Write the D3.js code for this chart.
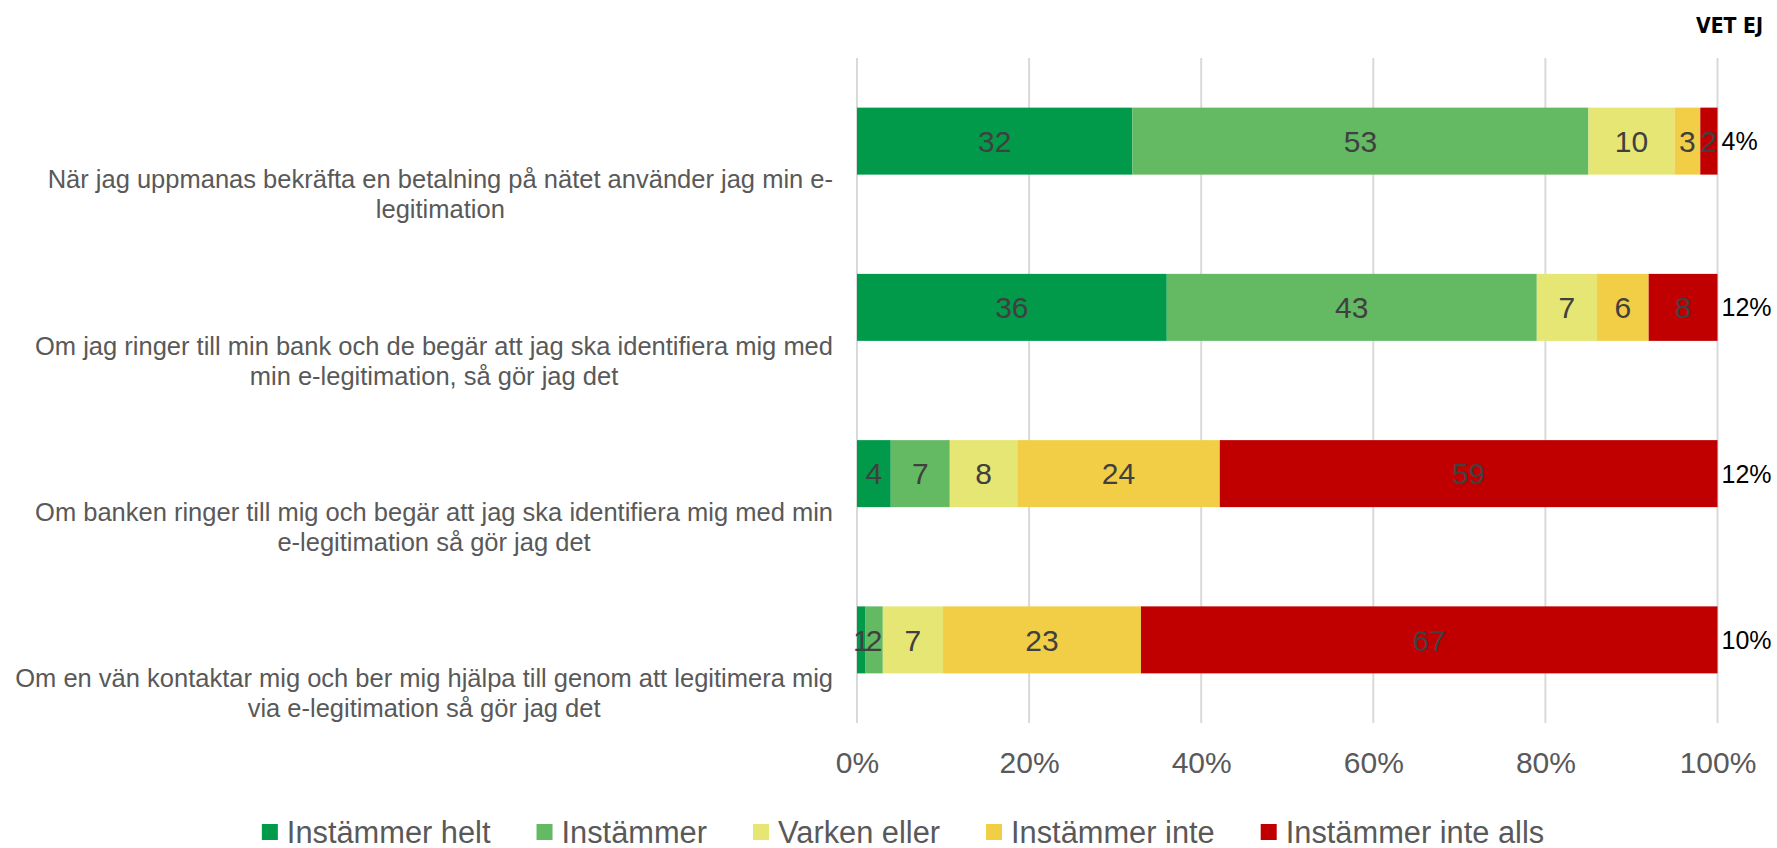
<!DOCTYPE html>
<html>
<head>
<meta charset="utf-8">
<script src="https://cdn.jsdelivr.net/npm/d3@7"></script>
<style>
  html, body { margin: 0; padding: 0; background: #fff; }
  svg { display: block; }
</style>
</head>
<body>
<svg id="chart" width="1777" height="848"></svg>
<script>
// ---- data ----
const categories = [
  "När jag uppmanas bekräfta en betalning på nätet använder jag min e-\nlegitimation",
  "Om jag ringer till min bank och de begär att jag ska identifiera mig med\nmin e-legitimation, så gör jag det",
  "Om banken ringer till mig och begär att jag ska identifiera mig med min\ne-legitimation så gör jag det",
  "Om en vän kontaktar mig och ber mig hjälpa till genom att legitimera mig\nvia e-legitimation så gör jag det"
];
const seriesNames = ["Instämmer helt", "Instämmer", "Varken eller", "Instämmer inte", "Instämmer inte alls"];
const instammerHelt = [32, 36, 4, 1];
const instammer = [53, 43, 7, 2];
const varkenEller = [10, 7, 8, 7];
const instammerInte = [3, 6, 24, 23];
const instammerInteAlls = [2, 8, 59, 67];
const vetEj = ["4%", "12%", "12%", "10%"];
const tickValues = [0, 0.2, 0.4, 0.6, 0.8, 1.0];
const colors = ["#009A4A", "#63BA63", "#E6E674", "#F2CE46", "#C00000"];

// ---- build table ----
const seriesArrays = [instammerHelt, instammer, varkenEller, instammerInte, instammerInteAlls];
const table = categories.map((c, i) => {
  const row = { cat: c };
  seriesNames.forEach((s, j) => row[s] = seriesArrays[j][i]);
  return row;
});
const stacked = d3.stack().keys(seriesNames).offset(d3.stackOffsetExpand)(table);

const svg = d3.select("#chart");
const x = d3.scaleLinear().domain([0, 1]).range([857, 1717.5]);
const y = d3.scaleBand().domain(categories).range([58, 723]).paddingInner(0.597).paddingOuter(0.2985);
const color = d3.scaleOrdinal().domain(seriesNames).range(colors);

// gridlines
svg.append("g").selectAll("line").data(tickValues).join("line")
  .attr("x1", d => x(d)).attr("x2", d => x(d))
  .attr("y1", 58).attr("y2", 723)
  .attr("stroke", "#d9d9d9").attr("stroke-width", 2);

// bars
const layer = svg.append("g").selectAll("g").data(stacked).join("g")
  .attr("fill", d => color(d.key));
layer.selectAll("rect").data(d => d.map(v => ({ v, key: d.key }))).join("rect")
  .attr("x", d => x(d.v[0]))
  .attr("width", d => x(d.v[1]) - x(d.v[0]))
  .attr("y", d => y(d.v.data.cat))
  .attr("height", y.bandwidth());

// data labels
const labelFont = "'Liberation Sans', Arial, sans-serif";
svg.append("g").selectAll("g").data(stacked).join("g")
  .selectAll("text").data(d => d.map(v => ({ v, key: d.key }))).join("text")
  .attr("x", d => (x(d.v[0]) + x(d.v[1])) / 2)
  .attr("y", d => y(d.v.data.cat) + y.bandwidth() / 2)
  .attr("dy", "0.36em")
  .attr("text-anchor", "middle")
  .attr("font-family", labelFont)
  .attr("font-size", 30)
  .attr("fill", "#404040")
  .text(d => d.v.data[d.key]);

// x axis tick labels
const xAxis = d3.axisBottom(x).tickValues(tickValues).tickFormat(d3.format(".0%")).tickSize(0).tickPadding(0);
const ax = svg.append("g").attr("transform", "translate(0,762)").call(xAxis);
ax.select(".domain").remove();
ax.selectAll("text")
  .attr("dy", "0.36em").attr("y", 0)
  .attr("font-family", labelFont).attr("font-size", 30).attr("fill", "#595959");

// category labels
const catG = svg.append("g");
categories.forEach(c => {
  const lines = c.split("\n");
  const mid = y(c) + y.bandwidth() / 2 + 53;
  const t = catG.append("text")
    .attr("font-family", labelFont).attr("font-size", 25.5).attr("fill", "#595959")
    .attr("text-anchor", "middle");
  const spans = lines.map((ln, k) => t.append("tspan")
    .attr("y", mid + (k - (lines.length - 1) / 2) * 30)
    .attr("dy", "0.36em")
    .text(ln));
  const maxW = d3.max(spans, s => s.node().getComputedTextLength());
  const cx = 833 - maxW / 2;
  spans.forEach(s => s.attr("x", cx));
});

// VET EJ labels
svg.append("g").selectAll("text").data(categories).join("text")
  .attr("x", x(1) + 4)
  .attr("y", d => y(d) + y.bandwidth() / 2)
  .attr("dy", "0.36em")
  .attr("font-family", labelFont).attr("font-size", 25).attr("fill", "#000")
  .text((d, i) => vetEj[i]);

svg.append("text")
  .attr("x", 1763).attr("y", 33)
  .attr("text-anchor", "end")
  .attr("font-family", "'DejaVu Sans Condensed', 'DejaVu Sans', Arial, sans-serif")
  .attr("font-stretch", "condensed")
  .attr("font-weight", "bold").attr("font-size", 21).attr("fill", "#000")
  .text("VET EJ");

// legend
const lg = svg.append("g");
const items = seriesNames.map(name => {
  const g = lg.append("g");
  g.append("rect").attr("width", 16).attr("height", 16).attr("y", -8).attr("fill", color(name));
  const t = g.append("text").attr("x", 25).attr("dy", "0.36em")
    .attr("font-family", labelFont).attr("font-size", 30.8).attr("fill", "#595959").text(name);
  return { g, w: 25 + t.node().getComputedTextLength() };
});
const gap = 46;
const total = d3.sum(items, d => d.w) + gap * (items.length - 1);
let cursor = 903 - total / 2;
items.forEach(it => {
  it.g.attr("transform", `translate(${cursor},832)`);
  cursor += it.w + gap;
});
</script>
</body>
</html>
